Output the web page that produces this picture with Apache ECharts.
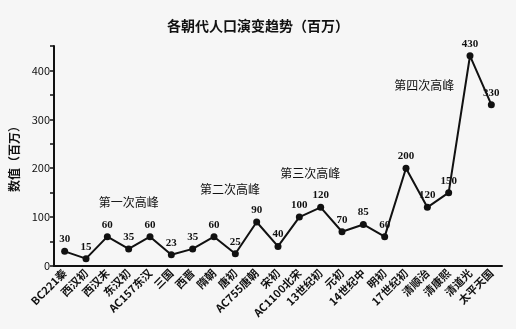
<!DOCTYPE html>
<html><head><meta charset="utf-8">
<script src="https://cdn.jsdelivr.net/npm/echarts@6/dist/echarts.min.js"></script>
<style>html,body{margin:0;padding:0;background:#f6f6f6}#c{width:516px;height:329px}</style>
</head><body><div id="c"></div>
<script>
const categories = ['BC221秦','西汉初','西汉末','东汉初','AC157东汉','三国','西晋','隋朝','唐初','AC755唐朝','宋初','AC1100北宋','13世纪初','元初','14世纪中','明初','17世纪初','清顺治','清康熙','清道光','太平天国'];
const population = [30,15,60,35,60,23,35,60,25,90,40,100,120,70,85,60,200,120,150,430,330];
const peakNames = ['第一次高峰','第二次高峰','第三次高峰','第四次高峰'];
const peakCats = ['东汉初','隋朝','AC1100北宋','清顺治'];
const peakVals = [129,157,190,369];
const peakShift = [0,16,11,-3];

const font = '"Noto Sans CJK SC", sans-serif';
const numFont = '"Liberation Serif", "Noto Sans CJK SC", serif';
const chart = echarts.init(document.getElementById('c'));
chart.setOption({
  backgroundColor: '#f6f6f6',
  animation: false,
  title: {text: '各朝代人口演变趋势（百万）', left: 'center', top: 14,
    textStyle: {fontFamily: font, fontSize: 14, fontWeight: 'bold', color: '#111'}},
  grid: {left: 47, right: 14, top: 46, bottom: 63},
  xAxis: {type: 'category', data: categories,
    axisLine: {lineStyle: {color: '#111', width: 2}},
    axisTick: {alignWithLabel: true, length: 4, lineStyle: {color: '#111', width: 1.5}},
    axisLabel: {rotate: 45, interval: 0, fontFamily: font, fontSize: 11, fontWeight: 'bold', color: '#111', margin: 5}},
  yAxis: {type: 'value', min: 0, max: 450, interval: 50,
    name: '数值（百万）', nameLocation: 'middle', nameRotate: 90, nameGap: 34,
    nameTextStyle: {fontFamily: font, fontSize: 12, fontWeight: 'bold', color: '#111'},
    splitLine: {show: false},
    axisLine: {show: true, lineStyle: {color: '#111', width: 2}},
    axisTick: {show: true, length: 4, lineStyle: {color: '#111', width: 1.5}},
    axisLabel: {fontFamily: font, fontSize: 11, color: '#111', margin: 4,
      formatter: v => (v % 100 === 0 ? String(v) : '')}},
  series: [{type: 'line', data: population, symbol: 'circle', symbolSize: 7,
    lineStyle: {color: '#111', width: 2}, itemStyle: {color: '#111'},
    label: {show: true, position: 'top', distance: 3, fontFamily: numFont, fontSize: 11, fontWeight: 'bold', color: '#111'},
    markPoint: {symbol: 'circle', symbolSize: 0,
      label: {show: true, fontFamily: font, fontSize: 12, color: '#111', position: 'inside'},
      data: peakNames.map((n, i) => ({coord: [peakCats[i], peakVals[i]], value: n,
        label: {formatter: n, offset: [peakShift[i], 0]}}))}
  }]
});
</script></body></html>
